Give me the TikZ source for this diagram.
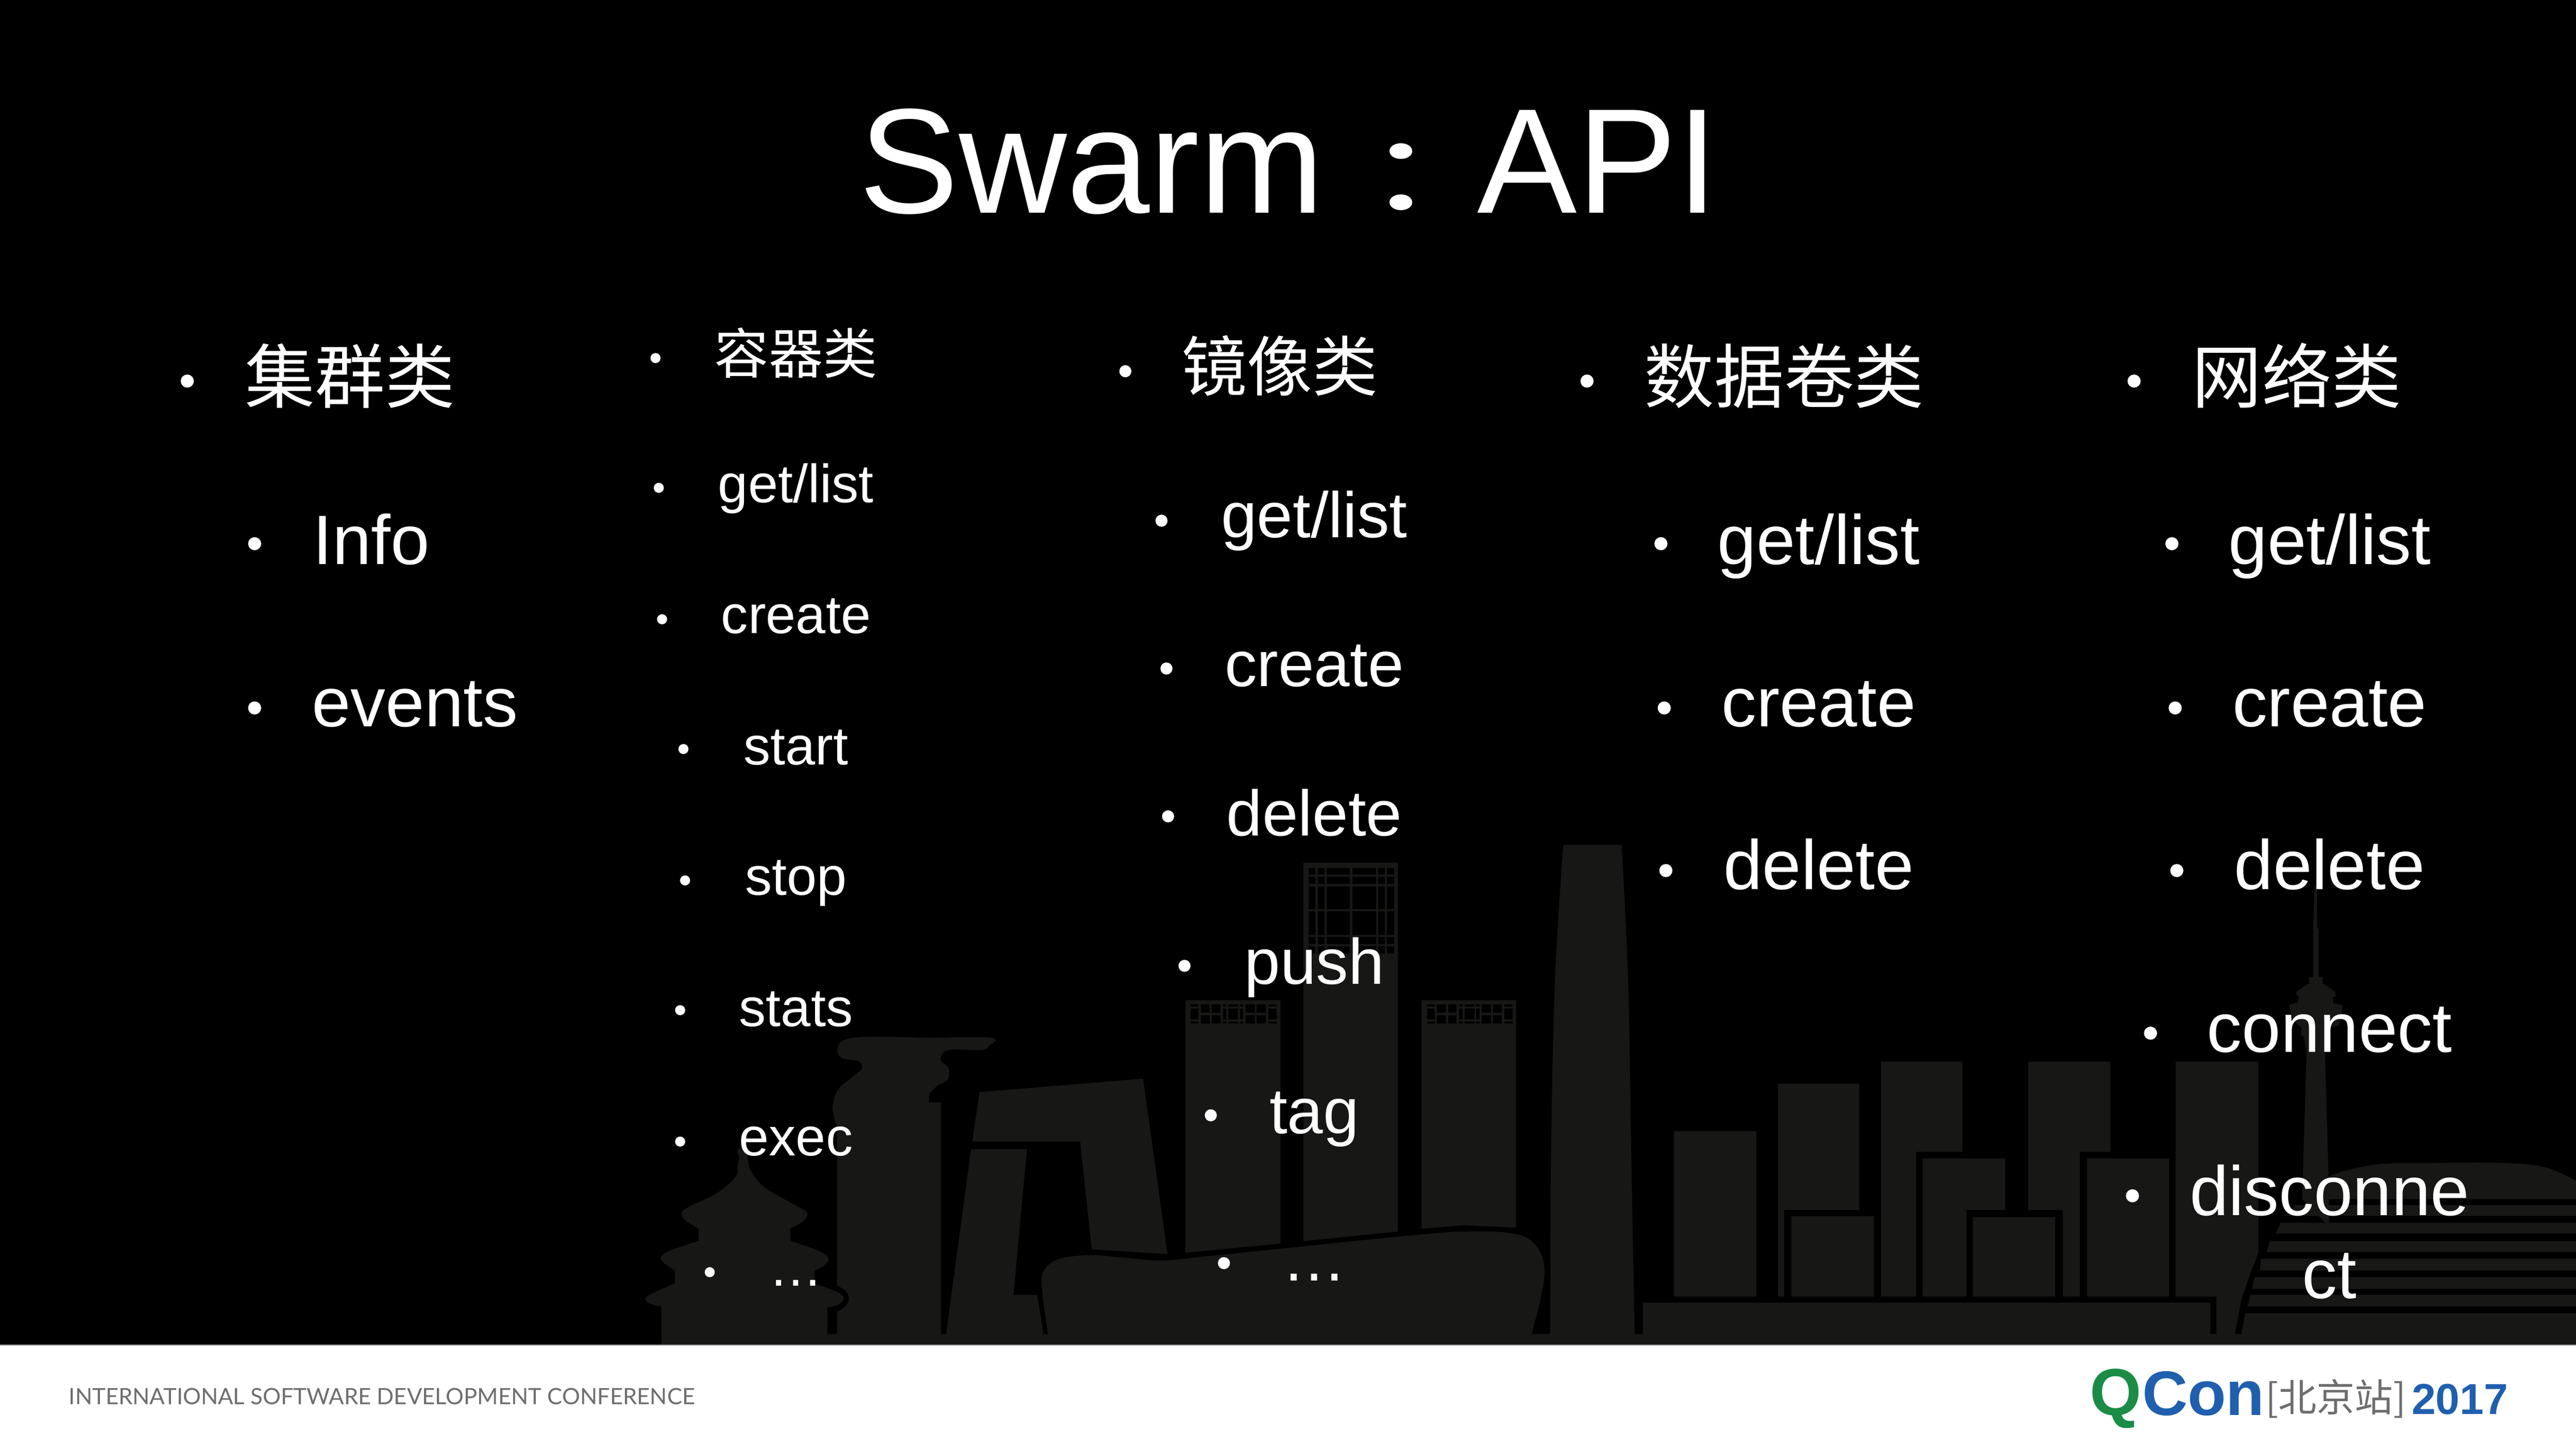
\documentclass[tikz,border=0pt]{standalone}
\usepackage{fontspec}
\setmainfont{Liberation Sans}
\newfontfamily\cjk{Noto Sans CJK SC}
\newfontfamily\cjktc{Noto Sans CJK TC}
\newfontfamily\footfont{Lato}
\definecolor{skygray}{HTML}{171716}
\definecolor{qgreen}{HTML}{1A8C45}
\definecolor{qblue}{HTML}{1F5FAE}
\definecolor{footgray}{HTML}{6E6E6E}
\tikzset{every node/.style={inner sep=0pt, outer sep=0pt}}
\tikzset{itemL/.style={anchor=base, yshift=-1.5bp, text=white, font=\fontsize{139bp}{139bp}\selectfont}}
\tikzset{itemM/.style={anchor=base, yshift=-2.3bp, text=white, font=\fontsize{128bp}{128bp}\selectfont}}
\tikzset{itemS/.style={anchor=base, text=white, font=\fontsize{107bp}{107bp}\selectfont}}
\tikzset{headL/.style={anchor=base, text=white, font=\cjk\fontsize{139bp}{139bp}\selectfont}}
\tikzset{headM/.style={anchor=base, text=white, font=\cjk\fontsize{130bp}{130bp}\selectfont}}
\tikzset{headS/.style={anchor=base, text=white, font=\cjk\fontsize{108bp}{108bp}\selectfont}}
\tikzset{bulletL/.style={circle, fill=white, minimum size=26bp}}
\tikzset{bulletM/.style={circle, fill=white, minimum size=24bp}}
\tikzset{bulletS/.style={circle, fill=white, minimum size=20bp}}
\tikzset{sky/.style={fill=skygray}}

\begin{document}
\begin{tikzpicture}[x=3.2647bp, y=-3.2647bp]
\useasboundingbox (0,0) rectangle (1568,881.86);
\fill[black] (0,0) rectangle (1568,818.5);
\fill[white] (0,819) rectangle (1568,881.86);
\fill[gray] (0,818.5) rectangle (1568,819.1);

% temple and tower at the left
\begin{scope}[shift={(389,624.9)}, xscale=.1406, yscale=.1249]
\fill[sky] (857,1500) -- (857,490) -- plot[smooth, tension=.6] coordinates {(857,490) (838,400) (860,310) (920,250) (965,205) (950,170) (880,155) (858,110) (890,65) (1000,50) (1250,55) (1525,55) (1515,95) (1480,115) (1340,115) (1305,160) (1340,205) (1335,260) (1290,290) (1255,330)} -- (1255,370) -- (1307,370) -- (1307,1500) -- cycle;
\fill[black] (857,1265) .. controls (925,1290) and (925,1360) .. (857,1390) -- cycle;
\fill[sky] (97,1550) -- plot[smooth, tension=.6] coordinates {(97,1365) (45,1350) (28,1325) (60,1300) (155,1252)} -- plot[smooth, tension=.6] coordinates {(155,1190) (105,1150) (95,1125) (130,1095) (258,1045)} -- plot[smooth, tension=.6] coordinates {(258,985) (200,945) (185,910) (215,880) (340,810) (420,730) (425,680) (435,640) (425,610) (445,590) (470,610) (470,650) (490,715) (550,790) (690,880) (728,910) (710,950) (655,985)} -- plot[smooth, tension=.6] coordinates {(655,1045) (780,1095) (820,1130) (800,1165) (760,1190)} -- plot[smooth, tension=.6] coordinates {(760,1255) (860,1295) (885,1325) (865,1355) (815,1370)} -- (815,1550) -- cycle;
\end{scope}

% cctv, towers and the nest
\begin{scope}[shift={(367.6,490.1)}, xscale=.3907, yscale=.21495]
\fill[sky] (574,953) -- (585,813) -- (840,775) -- (878,1272) -- (760,1258) -- (742,953) -- cycle;
\fill[sky] (533,1500) -- (572,975) -- (659,975) -- (638,1387) -- (675,1387) -- (685,1500) -- cycle;
\fill[sky] (906,553) -- (1054,553) -- (1054,1242) -- (906,1268) -- cycle;
\fill[sky] (1090,163) -- (1237,163) -- (1237,1208) -- (1090,1235) -- cycle;
\fill[sky] (1274,553) -- (1421,553) -- (1421,1197) -- (1340,1190) -- (1274,1200) -- cycle;
\fill[sky] (692,1500) -- plot[smooth, tension=.6] coordinates {(692,1500) (683,1380) (685,1320) (710,1285) (760,1275) (810,1282) (870,1290) (940,1278) (1100,1248) (1240,1222) (1340,1208) (1420,1215) (1455,1255) (1465,1340) (1445,1500)} -- cycle;
\end{scope}

% window lattice on the three towers
\begin{scope}[shift={(790.3,520.7)}, scale=.1021]
\foreach \xa/\xb in {60/102, 115/155, 168/308, 322/462, 475/516, 528/572}
  \foreach \ya/\yb in {75/115, 128/172, 185/322, 335/476, 488/530, 542/585}
    \fill[black] (\xa,\ya) rectangle (\xb,\yb);
\end{scope}
\foreach \dx in {0, 143.8} {
\begin{scope}[shift={(716.8+\dx,603.4)}, scale=.1021]
\foreach \xa/\xb in {78/125, 270/290, 303/360, 372/392, 540/590}
  \foreach \ya/\yb in {78/92, 105/170, 182/192}
    \fill[black] (\xa,\ya) rectangle (\xb,\yb);
\foreach \xa/\xb in {138/192, 205/255, 405/460, 472/525}
  \foreach \ya/\yb in {78/130, 145/192}
    \fill[black] (\xa,\ya) rectangle (\xb,\yb);
\end{scope}
}

% big tower and the block of buildings
\begin{scope}[shift={(949.6,490.1)}, xscale=.3944, yscale=.21495]
\fill[sky] (-15,1500) -- plot[smooth, tension=.6] coordinates {(-15,1500) (-14,1000) (-8,500) (5,113)} -- (95,113) -- plot[smooth, tension=.6] coordinates {(95,113) (105,500) (110,1000) (115,1500)} -- cycle;
\fill[sky] (176,924) rectangle (303,1392);
\fill[sky] (336,790) rectangle (462,1392);
\fill[sky] (495,727) rectangle (621,1392);
\fill[sky] (723,727) rectangle (849,1392);
\fill[black] (346,1147) rectangle (495,1392);
\fill[black] (549,982) rectangle (723,1392);
\fill[black] (802,982) rectangle (950,1392);
\fill[sky] (357,1165) rectangle (484,1392);
\fill[sky] (560,1001) rectangle (687,1392);
\fill[black] (627,1147) rectangle (776,1392);
\fill[sky] (776,1147) rectangle (802,1392);
\fill[sky] (637,1167) rectangle (764,1392);
\fill[sky] (813,1001) rectangle (940,1392);
\fill[sky] (128,1410) rectangle (1003,1500);
\end{scope}

% tv tower
\begin{scope}[shift={(1363.1,539.1)}, xscale=.1021, yscale=.1094]
\fill[sky] (448,0) -- (462,0) -- (463,235) -- (472,245) -- (472,510) -- (495,510) -- (497,545) -- (570,590) -- (575,615) -- (555,625) -- (560,655) -- (615,665) -- (610,720) -- (590,780) -- (525,790) -- (510,930) -- (530,1568) -- (535,1900) -- (375,1744) -- (380,1568) -- (400,930) -- (385,840) -- (370,835) -- (370,790) -- (320,750) -- (295,665) -- (350,650) -- (355,620) -- (335,600) -- (340,590) -- (415,545) -- (415,510) -- (440,510) -- (440,245) -- cycle;
\end{scope}

% last building and the dome
\begin{scope}[shift={(1317.1,689.2)}, xscale=.16, yscale=.1021]
\fill[sky] (45,-420) -- (360,-420) -- (360,720) -- (325,860) -- (295,1000) -- (270,1205) -- (200,1205) -- (200,980) -- (45,980) -- cycle;
\fill[sky] (530,400) -- plot[smooth, tension=.6] coordinates {(540,400) (620,270) (800,195) (1000,185) (1300,185) (1450,210) (1568,290)} -- (1568,400) -- cycle;
\foreach \ya/\yb/\xa/\xb in {435/500/500/475, 540/605/445/425, 650/715/405/390, 755/825/370/365, 865/935/345/335, 970/1040/330/318, 1080/1205/310/295}
  \fill[sky] (\xa,\ya) -- (1568,\ya) -- (1568,\yb) -- (\xb,\yb) -- cycle;
\end{scope}

\fill[sky] (402.6,812.3) rectangle (1568,818.5);

% title
\node[anchor=base west, text=white, font=\fontsize{297bp}{297bp}\selectfont] (title) at (523,129.6) {Swarm\hspace{4.5bp}{\cjktc\raisebox{-.02em}{\scalebox{1}[.7]{：}}}\hspace{3bp}API};

% cluster column
\node[bulletL] (c1b0) at (114,232) {};
\node[headL] (c1h) at (213,245) {集群类};
\foreach \n/\bx/\by/\tx/\ty/\t in {1/155/331/226/343/Info, 2/155/431/252.5/442/events}{
  \node[bulletL] (c1b\n) at (\bx,\by) {};
  \node[itemL] (c1t\n) at (\tx,\ty) {\t};
}

% container column
\node[bulletS] (c2b0) at (399,218) {};
\node[headS] (c2h) at (484.5,227.5) {容器类};
\foreach \n/\bx/\by/\ty/\t in {1/401/297/306/get\slash list, 2/403/377/385.7/create, 3/416/456/465.4/start, 4/417/536/545/stop, 5/414/615/624.8/stats, 6/414/695/703.7/exec, 7/432/774.5/783/…}{
  \node[bulletS] (c2b\n) at (\bx,\by) {};
  \node[itemS] (c2t\n) at (484.5,\ty) {\t};
}

% image column
\node[bulletM] (c3b0) at (685,226) {};
\node[headM] (c3h) at (779,238) {镜像类};
\foreach \n/\bx/\by/\ty/\t in {1/707/317/326.6/get\slash list, 2/710/407/417.3/create, 3/711/497/508/delete, 4/721/588/598.5/push, 5/737/679/689.5/tag, 6/745/769/779/…}{
  \node[bulletM] (c3b\n) at (\bx,\by) {};
  \node[itemM] (c3t\n) at (800,\ty) {\t};
}

% volume column
\node[bulletL] (c4b0) at (966,232) {};
\node[headL] (c4h) at (1086,245) {数据卷类};
\foreach \n/\bx/\by/\ty/\t in {1/1011/331/343/get\slash list, 2/1013/431/442/create, 3/1014/530/541/delete}{
  \node[bulletL] (c4b\n) at (\bx,\by) {};
  \node[itemL] (c4t\n) at (1107,\ty) {\t};
}

% network column
\node[bulletL] (c5b0) at (1299,232) {};
\node[headL] (c5h) at (1398,245) {网络类};
\foreach \n/\bx/\by/\ty/\t in {1/1322/331/343/get\slash list, 2/1324/431/442/create, 3/1325/530/541/delete, 4/1309/629/640/connect, 5/1298/728/739.5/disconne}{
  \node[bulletL] (c5b\n) at (\bx,\by) {};
  \node[itemL] (c5t\n) at (1418,\ty) {\t};
}
\node[itemL] (c5t6) at (1418,790) {ct};

% footer
\node[anchor=base west, text=footgray, font=\footfont\fontsize{44.6bp}{44.6bp}\selectfont] (foot) at (42,855) {INTERNATIONAL SOFTWARE DEVELOPMENT CONFERENCE};
\node[anchor=base west, text=qgreen, font=\bfseries\fontsize{132bp}{132bp}\selectfont] (logoq) at (1272,861.5) {Q};
\node[anchor=base west, text=qblue, font=\bfseries\fontsize{125bp}{125bp}\selectfont] (logocon) at (1304,861.5) {Con};
\node[anchor=base west, text=footgray, font=\cjk\fontsize{76bp}{76bp}\selectfont] (logosite) at (1379,859.5) {[北京站]};
\node[anchor=base west, text=qblue, font=\bfseries\fontsize{86bp}{86bp}\selectfont] (logoyear) at (1468,861) {2017};
\end{tikzpicture}
\end{document}
